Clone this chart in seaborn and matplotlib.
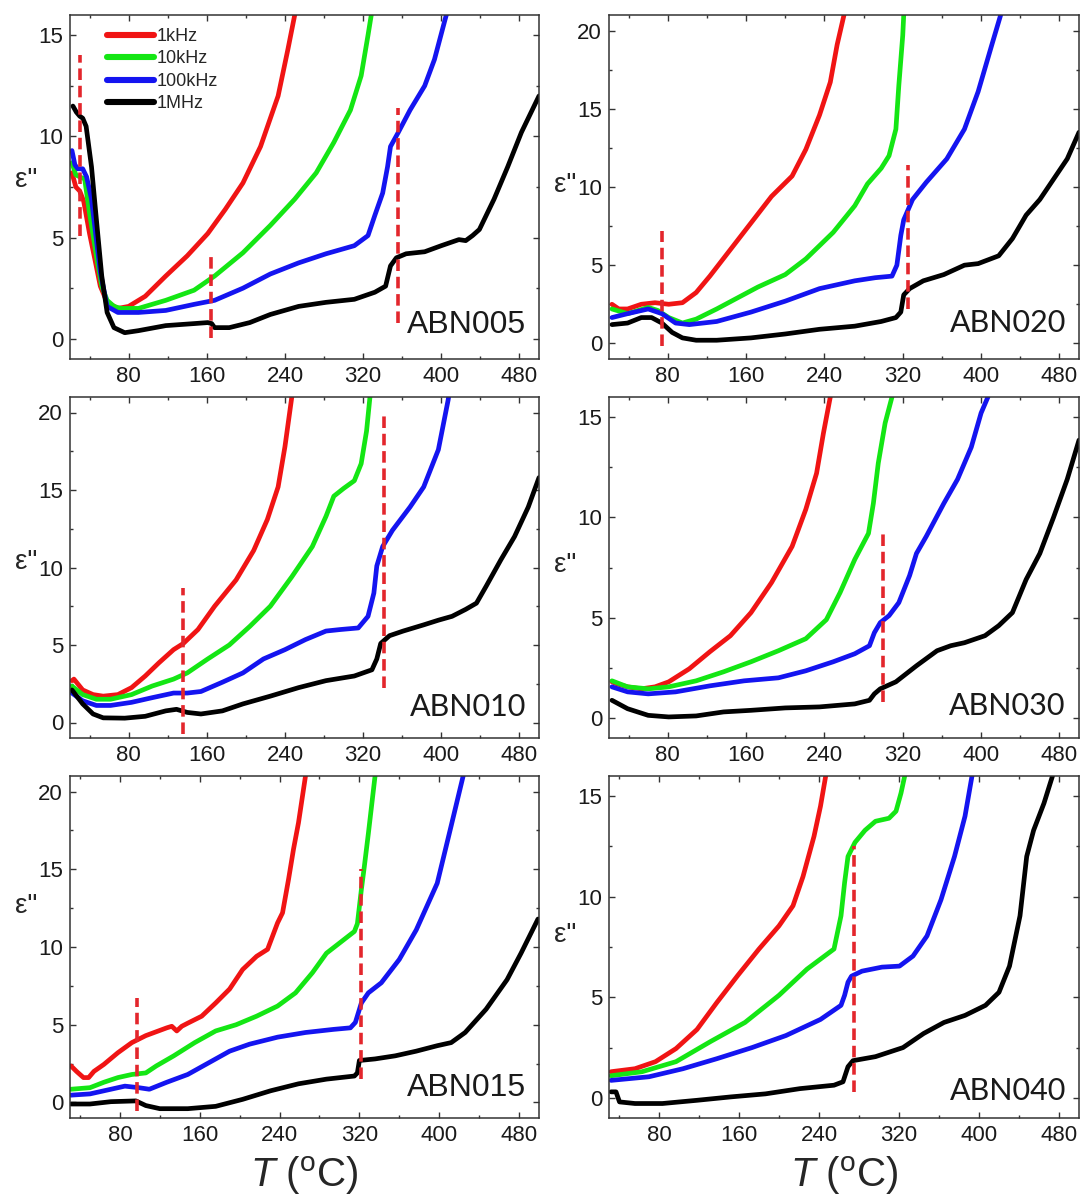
import pandas as pd
import matplotlib
matplotlib.use('Agg')
import matplotlib.pyplot as plt
from matplotlib.ticker import MultipleLocator
import seaborn as sns

# frequencies and colours
freqs = ['1kHz', '10kHz', '100kHz', '1MHz']
colors = ['#f01414', '#14e614', '#1414f0', '#000000']
dash_color = '#e3262c'

# ABN005  (T in degC, eps'')
abn005_1k = [(22, 8.2), (26, 7.5), (30, 7.3), (34, 6.8), (40, 5.2), (46, 3.8), (51, 2.6), (58, 1.8), (69, 1.5),
             (80, 1.6), (97, 2.1), (118, 3.1), (140, 4.1), (161, 5.2), (179, 6.4), (197, 7.7), (215, 9.5),
             (233, 12.0), (243, 14.3), (250, 16.0), (255, 17.5)]
abn005_10k = [(22, 8.7), (26, 8.1), (30, 8.0), (35, 7.9), (40, 6.2), (44, 5.0), (48, 3.8), (52.5, 2.6), (58, 1.9),
              (65, 1.6), (72, 1.5), (90, 1.5), (118, 1.9), (147, 2.4), (168, 3.1), (197, 4.25), (225, 5.6),
              (250, 6.9), (272, 8.2), (290, 9.7), (307, 11.3), (318, 13.0), (325, 15.0), (329, 16.2), (332, 17.5)]
abn005_100k = [(22, 9.3), (25, 8.6), (28, 8.4), (33, 8.4), (37, 8.0), (42, 6.9), (46, 5.3), (51, 3.3), (58, 1.6),
               (69, 1.3), (90, 1.3), (118, 1.4), (147, 1.7), (168, 1.9), (197, 2.5), (225, 3.2), (254, 3.75),
               (282, 4.2), (311, 4.6), (325, 5.1), (332, 6.1), (340, 7.2), (345, 8.5), (348, 9.5), (356, 10.2),
               (368, 11.3), (383, 12.5), (393, 13.8), (404, 15.8), (408, 16.5), (412, 17.5)]
abn005_1M = [(23, 11.5), (26.5, 11.2), (30, 11.0), (33, 10.9), (36.5, 10.5), (42, 8.5), (47, 5.9), (52.5, 3.1),
             (58, 1.3), (65, 0.55), (76, 0.3), (90, 0.4), (118, 0.65), (147, 0.75), (161, 0.8), (165, 0.75),
             (168, 0.55), (183, 0.55), (204, 0.8), (225, 1.2), (254, 1.6), (282, 1.8), (311, 1.95), (332, 2.3),
             (343, 2.6), (348, 3.6), (354, 4.0), (364, 4.2), (383, 4.3), (400, 4.6), (418, 4.9), (425, 4.85),
             (432, 5.1), (439, 5.4), (454, 6.9), (468, 8.5), (482, 10.2), (500, 12.0)]
abn005_dash_T = [30, 164, 356]
abn005_dash_lo = [5.1, 0.05, 0.8]
abn005_dash_hi = [14.0, 4.1, 11.4]

# ABN020
abn020_1k = [(23, 2.5), (30, 2.2), (39, 2.2), (53, 2.5), (67, 2.6), (81, 2.5), (95, 2.6), (109, 3.25), (123, 4.3),
             (144, 6.0), (165, 7.7), (186, 9.4), (207, 10.7), (221, 12.4), (235, 14.6), (246, 16.7), (253, 19.1),
             (260, 21.0), (264, 22.5)]
abn020_10k = [(23, 2.2), (39, 1.9), (60, 2.3), (70, 2.1), (81, 1.65), (95, 1.3), (109, 1.55), (130, 2.2),
              (151, 2.9), (172, 3.6), (200, 4.4), (221, 5.4), (249, 7.1), (271, 8.8), (284, 10.2), (298, 11.2),
              (306, 12.0), (313, 13.7), (316, 16.5), (320, 19.7), (321, 21.0), (323, 23.0)]
abn020_100k = [(23, 1.65), (39, 1.9), (60, 2.2), (74, 1.9), (88, 1.3), (102, 1.2), (130, 1.4), (165, 2.0),
               (200, 2.7), (235, 3.5), (271, 4.0), (292, 4.2), (309, 4.3), (314, 5.0), (318, 6.9), (321, 7.9),
               (330, 9.2), (344, 10.3), (365, 11.8), (383, 13.7), (397, 16.1), (411, 19.1), (420, 21.0),
               (424, 22.5)]
abn020_1M = [(23, 1.2), (39, 1.3), (53, 1.65), (63.5, 1.65), (74, 1.3), (84.5, 0.7), (95, 0.35), (109, 0.2),
             (130, 0.2), (165, 0.35), (200, 0.6), (235, 0.9), (271, 1.1), (298, 1.4), (313, 1.65), (318, 2.0),
             (321, 3.1), (327, 3.5), (341, 4.0), (362, 4.4), (383, 5.0), (397, 5.1), (418, 5.6), (432, 6.7),
             (446, 8.2), (460, 9.2), (474, 10.5), (488, 11.8), (500, 13.5)]
abn020_dash_T = [74, 325.6]
abn020_dash_lo = [-0.15, 2.2]
abn020_dash_hi = [7.2, 11.4]

# ABN010
abn010_1k = [(22, 2.7), (24, 2.8), (33, 2.1), (43.6, 1.8), (54, 1.7), (69, 1.8), (83, 2.25), (97, 3.0),
             (111, 3.85), (126, 4.7), (136, 5.1), (151, 6.0), (168, 7.5), (190, 9.2), (208, 11.1), (222, 13.1),
             (233, 15.2), (240, 17.8), (247, 21.0), (250, 22.5)]
abn010_10k = [(22, 2.35), (33, 1.8), (47, 1.5), (61.5, 1.5), (83, 1.8), (104, 2.35), (126, 2.8), (140, 3.2),
              (161, 4.1), (183, 5.0), (204, 6.2), (225, 7.5), (247, 9.4), (268, 11.35), (282, 13.3), (290, 14.6),
              (300, 15.1), (311, 15.6), (318, 16.7), (323.5, 18.8), (327, 21.0), (329, 22.5)]
abn010_100k = [(22, 1.9), (33, 1.4), (47, 1.1), (61.5, 1.1), (83, 1.3), (104, 1.6), (126, 1.9), (140, 1.9),
               (154, 2.0), (176, 2.6), (197, 3.2), (218, 4.1), (240, 4.7), (261, 5.35), (282, 5.9), (297, 6.0),
               (315, 6.1), (325, 6.85), (331, 8.35), (334, 10.1), (340, 11.35), (350, 12.4), (368, 13.9),
               (382, 15.2), (397, 17.6), (407, 20.8), (410, 22.0)]
abn010_1M = [(22, 2.1), (33, 1.2), (43.6, 0.55), (54, 0.3), (76, 0.28), (97, 0.4), (118, 0.75), (129, 0.85),
             (140, 0.65), (154, 0.55), (176, 0.75), (197, 1.2), (225, 1.7), (254, 2.25), (282, 2.7), (311, 3.0),
             (329, 3.4), (334, 4.1), (338, 5.1), (347, 5.6), (361, 5.9), (382, 6.3), (397, 6.6), (411, 6.85),
             (425, 7.3), (436, 7.7), (446, 8.8), (461, 10.5), (475, 12.0), (489, 13.9), (500, 15.8)]
abn010_dash_T = [136, 341]
abn010_dash_lo = [-0.75, 2.25]
abn010_dash_hi = [8.7, 20.0]

# ABN030
abn030_1k = [(23, 1.8), (28, 1.7), (39, 1.55), (53, 1.45), (67, 1.55), (81, 1.8), (102, 2.45), (123, 3.3),
             (144, 4.1), (165, 5.25), (186, 6.75), (207, 8.55), (221, 10.4), (232, 12.2), (239, 14.2),
             (246, 16.0), (250, 17.5)]
abn030_10k = [(23, 1.85), (39, 1.55), (60, 1.45), (81, 1.55), (109, 1.85), (137, 2.3), (165, 2.8), (193, 3.35),
              (221, 3.95), (242, 4.9), (256, 6.25), (271, 7.9), (285, 9.2), (290, 10.7), (295, 12.7),
              (302, 14.7), (309, 16.0), (312, 17.5)]
abn030_100k = [(23, 1.55), (39, 1.3), (60, 1.2), (88, 1.3), (123, 1.6), (158, 1.85), (193, 2.0), (221, 2.35),
               (249, 2.8), (271, 3.2), (286, 3.6), (291, 4.25), (297, 4.75), (306, 5.1), (316, 5.75), (327, 7.1),
               (334, 8.2), (344, 9.05), (362, 10.7), (376, 11.9), (390, 13.5), (400, 15.2), (407, 16.0),
               (410, 17.0)]
abn030_1M = [(23, 0.88), (39, 0.46), (60, 0.13), (81, 0.05), (109, 0.1), (137, 0.3), (165, 0.38), (200, 0.5),
             (235, 0.55), (271, 0.7), (286, 0.88), (291, 1.2), (297, 1.45), (313, 1.8), (334, 2.6), (355, 3.35),
             (369, 3.6), (383, 3.75), (404, 4.1), (418, 4.6), (432, 5.25), (446, 6.9), (460, 8.2), (474, 10.0),
             (488, 11.9), (500, 13.85)]
abn030_dash_T = [300]
abn030_dash_lo = [0.8]
abn030_dash_hi = [9.3]

# ABN015
abn015_1k = [(31, 2.35), (36.5, 2.0), (43.5, 1.6), (48.7, 1.6), (54, 2.0), (64, 2.45), (78, 3.2), (92, 3.85),
             (106, 4.3), (127, 4.8), (132, 4.9), (137, 4.6), (142, 4.9), (148, 5.1), (162, 5.55), (176, 6.4),
             (190, 7.3), (203, 8.55), (217, 9.4), (228, 9.85), (233, 10.7), (238, 11.55), (243, 12.2),
             (249, 14.35), (254, 16.3), (259, 18.0), (266, 21.0), (268, 22.0)]
abn015_10k = [(31, 0.85), (50, 0.95), (64, 1.3), (78, 1.6), (92, 1.8), (106, 1.9), (116.5, 2.35), (134, 3.0),
              (155, 3.85), (176, 4.6), (196.5, 5.0), (217, 5.55), (238, 6.2), (256, 7.05), (273, 8.35),
              (287, 9.6), (301, 10.3), (315, 11.0), (318, 11.5), (322, 13.7), (325, 15.2), (329, 17.3),
              (335.7, 21.0), (338, 22.0)]
abn015_100k = [(31, 0.47), (50, 0.55), (64, 0.75), (85, 1.05), (99, 0.95), (109.5, 0.85), (127, 1.3),
               (148, 1.8), (169, 2.55), (190, 3.3), (210, 3.75), (238, 4.2), (266, 4.5), (294, 4.7), (311, 4.8),
               (316, 5.15), (322, 6.4), (329, 7.05), (342, 7.7), (360, 9.2), (377, 11.1), (398, 14.1),
               (412, 17.8), (424, 21.0), (427, 22.0)]
abn015_1M = [(31, -0.1), (50, -0.1), (71, 0.05), (96, 0.1), (106, -0.2), (120, -0.4), (148, -0.4),
             (176, -0.25), (203, 0.2), (231, 0.75), (259, 1.2), (287, 1.5), (315, 1.7), (318, 1.9), (320, 2.7),
             (335.7, 2.8), (356, 3.0), (377, 3.3), (398, 3.65), (412, 3.85), (426, 4.5), (447, 6.0), (468, 7.9),
             (482, 9.6), (499, 11.8)]
abn015_dash_T = [97.4, 321.7]
abn015_dash_lo = [-0.55, 1.5]
abn015_dash_hi = [6.75, 15.0]

# ABN040
abn040_1k = [(32, 1.3), (56, 1.45), (76.5, 1.8), (97, 2.45), (118, 3.4), (138, 4.75), (159, 6.1), (180, 7.4),
             (200, 8.55), (214, 9.55), (224, 11.0), (235, 13.0), (241.5, 14.5), (246.7, 16.0), (249, 17.0)]
abn040_10k = [(32, 1.1), (63, 1.3), (97, 1.8), (131.5, 2.8), (166, 3.75), (200, 5.1), (228, 6.4), (255, 7.4),
              (262, 9.05), (265.6, 10.7), (269, 12.0), (276, 12.7), (286, 13.3), (296.5, 13.75), (310, 13.9),
              (317, 14.25), (322, 15.15), (325.7, 16.0), (328, 17.0)]
abn040_100k = [(32, 0.87), (70, 1.05), (104, 1.45), (138, 1.95), (173, 2.5), (207, 3.1), (241.5, 3.9),
               (262, 4.6), (265.6, 5.1), (269, 5.75), (272.5, 6.05), (283, 6.3), (303, 6.5), (320.5, 6.55),
               (334, 7.05), (348, 8.05), (362, 9.85), (375.5, 12.0), (386, 14.0), (393, 16.0), (396, 17.0)]
abn040_1M = [(32, 0.3), (37, 0.3), (40.5, -0.2), (56, -0.28), (83.4, -0.28), (118, -0.12), (152, 0.05),
             (186.5, 0.2), (221, 0.46), (255, 0.63), (264, 0.8), (269, 1.55), (274, 1.85), (296.5, 2.05),
             (324, 2.5), (344.6, 3.2), (365, 3.75), (386, 4.1), (406.5, 4.6), (420, 5.25), (430.5, 6.55),
             (441, 9.05), (447.7, 12.0), (454.6, 13.3), (465, 14.65), (473.5, 16.0), (477, 17.0)]
abn040_dash_T = [275]
abn040_dash_lo = [0.3]
abn040_dash_hi = [12.5]

sample_names = ['ABN005', 'ABN020', 'ABN010', 'ABN030', 'ABN015', 'ABN040']
sample_series = [
    [abn005_1k, abn005_10k, abn005_100k, abn005_1M],
    [abn020_1k, abn020_10k, abn020_100k, abn020_1M],
    [abn010_1k, abn010_10k, abn010_100k, abn010_1M],
    [abn030_1k, abn030_10k, abn030_100k, abn030_1M],
    [abn015_1k, abn015_10k, abn015_100k, abn015_1M],
    [abn040_1k, abn040_10k, abn040_100k, abn040_1M],
]
sample_dashes = [
    (abn005_dash_T, abn005_dash_lo, abn005_dash_hi),
    (abn020_dash_T, abn020_dash_lo, abn020_dash_hi),
    (abn010_dash_T, abn010_dash_lo, abn010_dash_hi),
    (abn030_dash_T, abn030_dash_lo, abn030_dash_hi),
    (abn015_dash_T, abn015_dash_lo, abn015_dash_hi),
    (abn040_dash_T, abn040_dash_lo, abn040_dash_hi),
]
y_tops = [16, 21, 21, 16, 21, 16]
x_lefts = [20, 20, 20, 20, 30, 30]
x_ticks = [80, 160, 240, 320, 400, 480]

sns.set_style('ticks')
plt.rcParams['font.family'] = ['Liberation Sans', 'DejaVu Sans']
plt.rcParams['mathtext.fontset'] = 'custom'
plt.rcParams['mathtext.rm'] = 'Liberation Sans'
plt.rcParams['mathtext.it'] = 'Liberation Sans:italic'

W, H = 1082, 1198
fig = plt.figure(figsize=(W / 100, H / 100), dpi=100)

col_px = [(70, 539), (609, 1079)]
row_px = [(15, 359), (397, 738), (776, 1118)]
label_fonts = ['Liberation Sans', 'Lato', 'Lato', 'Lato', 'Liberation Sans', 'Lato']
name_sizes = [23, 22, 22, 22, 23, 22]
eps_y = [0.52, 0.506, 0.517, 0.507, 0.62, 0.535]
name_y = [0.10, 0.105, 0.09, 0.093, 0.088, 0.08]
palette = dict(zip(freqs, colors))

for i, name in enumerate(sample_names):
    r, c = divmod(i, 2)
    x0, x1 = col_px[c]
    y0, y1 = row_px[r]
    ax = fig.add_axes([x0 / W, 1 - y1 / H, (x1 - x0) / W, (y1 - y0) / H])

    rows = []
    for f, pts in zip(freqs, sample_series[i]):
        for t, e in pts:
            rows.append({'T': t, 'eps': e, 'freq': f})
    df = pd.DataFrame(rows)
    sns.lineplot(data=df, x='T', y='eps', hue='freq', hue_order=freqs, palette=palette,
                 estimator=None, sort=False, lw=3.4, legend=(i == 0), ax=ax)

    dT, dlo, dhi = sample_dashes[i]
    ax.vlines(dT, dlo, dhi, colors=dash_color, linestyles=(0, (3.2, 1.6)), lw=2.6, zorder=5)

    ax.set_xlim(x_lefts[i], 500)
    ax.set_ylim(-1, y_tops[i])
    ax.set_xticks(x_ticks)
    ax.xaxis.set_minor_locator(MultipleLocator(40))
    ax.yaxis.set_major_locator(MultipleLocator(5))
    ax.yaxis.set_minor_locator(MultipleLocator(2.5))
    ax.tick_params(which='both', direction='in', top=True, right=True, width=1, color='#333333')
    ax.tick_params(which='major', length=4.5, labelsize=16, pad=5, labelcolor='#1a1a1a')
    ax.tick_params(which='minor', length=2.5)
    for sp in ax.spines.values():
        sp.set_linewidth(1.1)
        sp.set_color('#333333')

    ax.set_ylabel('ε"', rotation=0, fontsize=20, ha='center', va='center')
    ax.yaxis.set_label_coords(-0.094, eps_y[i])
    if r == 2:
        ax.set_xlabel(r'$T$ ($^{\rm o}$C)', fontsize=29)
        ax.xaxis.set_label_coords(0.5, -0.105)
    else:
        ax.set_xlabel('')

    ax.text(0.972, name_y[i], name, transform=ax.transAxes, ha='right', va='center',
            fontsize=name_sizes[i], family=label_fonts[i], color='#1a1a1a')

    if i == 0:
        leg = ax.get_legend()
        handles = leg.legend_handles
        labels = [t.get_text() for t in leg.get_texts()]
        leg.remove()
        new_leg = ax.legend(handles, labels, loc='upper left', bbox_to_anchor=(0.078, 0.962),
                            frameon=False, fontsize=13, handlelength=2.6, handletextpad=0.15,
                            labelspacing=0.3, borderpad=0, borderaxespad=0)
        for ln in new_leg.get_lines():
            ln.set_linewidth(4.4)

fig.savefig('out.png', dpi=100)
